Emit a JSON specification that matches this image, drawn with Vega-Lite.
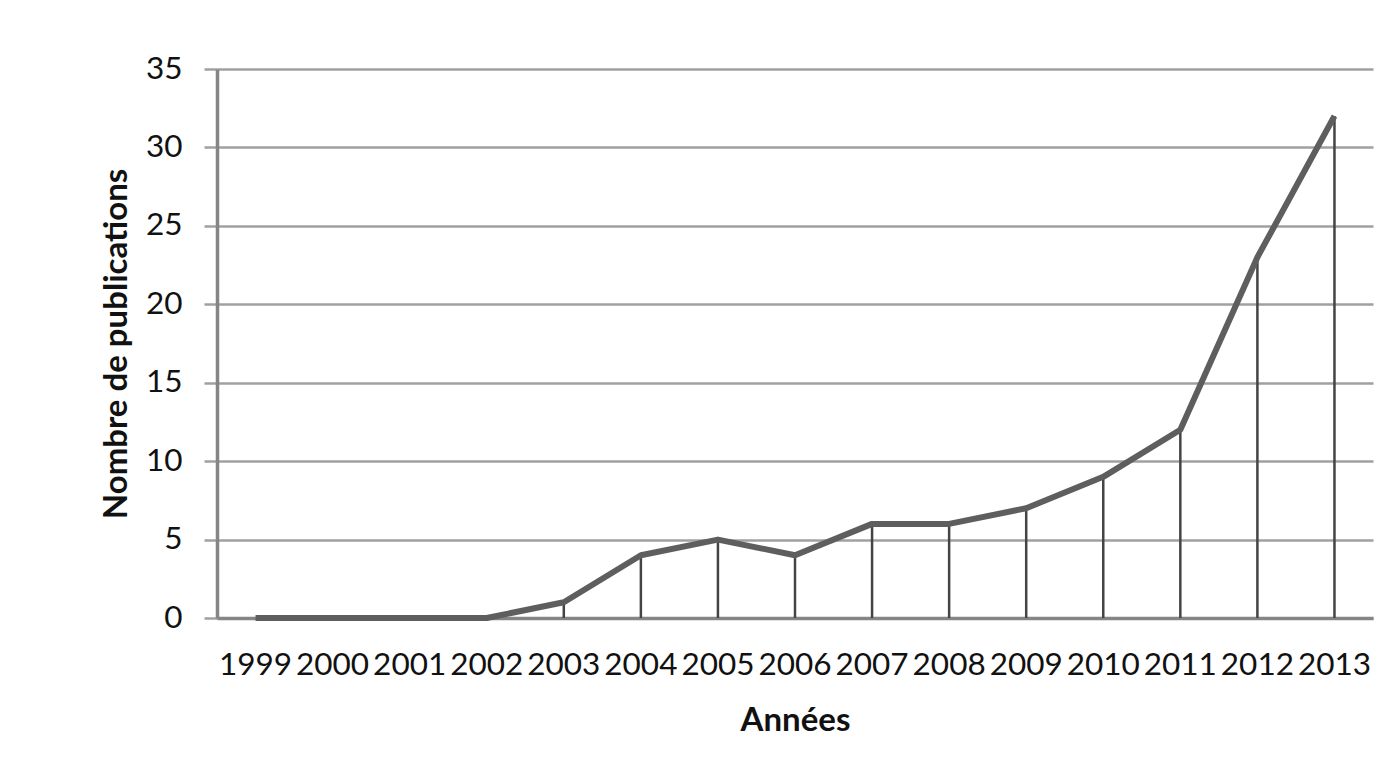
{
  "$schema": "https://vega.github.io/schema/vega-lite/v6.json",
  "autosize": {"type": "none"},
  "width": 1156,
  "height": 549,
  "padding": {"left": 217, "top": 69, "right": 8, "bottom": 154},
  "background": "white",
  "data": {
    "values": [
      {"annee": "1999", "publications": 0},
      {"annee": "2000", "publications": 0},
      {"annee": "2001", "publications": 0},
      {"annee": "2002", "publications": 0},
      {"annee": "2003", "publications": 1},
      {"annee": "2004", "publications": 4},
      {"annee": "2005", "publications": 5},
      {"annee": "2006", "publications": 4},
      {"annee": "2007", "publications": 6},
      {"annee": "2008", "publications": 6},
      {"annee": "2009", "publications": 7},
      {"annee": "2010", "publications": 9},
      {"annee": "2011", "publications": 12},
      {"annee": "2012", "publications": 23},
      {"annee": "2013", "publications": 32}
    ]
  },
  "encoding": {
    "x": {
      "field": "annee",
      "type": "ordinal",
      "scale": {"paddingInner": 0, "paddingOuter": 0},
      "axis": {
        "title": "Années",
        "labelAngle": 0,
        "ticks": false,
        "labelPadding": 31,
        "titlePadding": 24,
        "grid": false
      }
    },
    "y": {
      "field": "publications",
      "type": "quantitative",
      "scale": {"domain": [0, 35], "nice": false},
      "axis": {
        "title": "Nombre de publications",
        "values": [0, 5, 10, 15, 20, 25, 30, 35],
        "tickSize": 13,
        "tickColor": "#a0a0a0",
        "tickWidth": 2.5,
        "labelPadding": 22,
        "titlePadding": 12,
        "grid": true,
        "gridColor": "#a0a0a0",
        "gridWidth": 2.5
      }
    }
  },
  "layer": [
    {
      "mark": {"type": "rule", "color": "#444444", "strokeWidth": 2.5},
      "encoding": {"y2": {"datum": 0}}
    },
    {
      "mark": {"type": "line", "color": "#5e5e5e", "strokeWidth": 6, "strokeJoin": "round"}
    }
  ],
  "config": {
    "view": {"stroke": null},
    "font": "Lato",
    "axis": {
      "labelFont": "Lato",
      "labelFontSize": 31.5,
      "labelColor": "#111111",
      "titleFont": "Lato",
      "titleFontSize": 33,
      "titleFontWeight": "bold",
      "titleColor": "#111111",
      "domainColor": "#858585",
      "domainWidth": 3.5
    }
  }
}
